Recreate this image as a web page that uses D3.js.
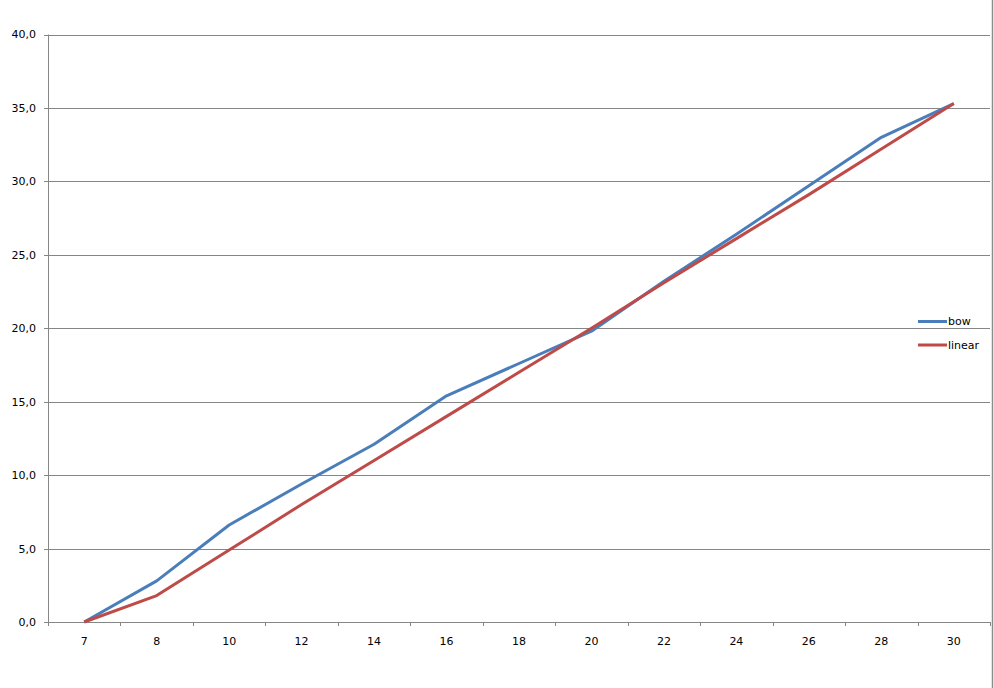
<!DOCTYPE html>
<html>
<head>
<meta charset="utf-8">
<script src="https://cdn.jsdelivr.net/npm/d3@7"></script>
<style>
  body { margin: 0; background: #fff; }
  svg { display: block; }
  text { font-family: "DejaVu Sans", sans-serif; font-size: 11px; fill: #000; }
</style>
</head>
<body>
<div id="chart"></div>
<script>
// data
const categories = ["7", "8", "10", "12", "14", "16", "18", "20", "22", "24", "26", "28", "30"];
const bow = [0, 2.8, 6.6, 9.4, 12.1, 15.4, 17.6, 19.8, 23.2, 26.4, 29.7, 33.0, 35.3];
const linear = [0, 1.8, 4.9, 8.0, 11.0, 14.0, 17.0, 20.0, 23.1, 26.1, 29.1, 32.2, 35.3];
const yTicks = [0, 5, 10, 15, 20, 25, 30, 35, 40];
const seriesNames = ["bow", "linear"];
const colors = ["#4a7ebb", "#be4b48"];

const width = 994;
const height = 688;
const plotLeft = 48, plotRight = 990, plotTop = 34.5, plotBottom = 622;
const gridColor = "#868686";

const svg = d3.select("#chart")
  .append("svg")
  .attr("width", width)
  .attr("height", height);

const x = d3.scaleBand()
  .domain(categories)
  .range([plotLeft, plotRight]);

const y = d3.scaleLinear()
  .domain([0, 40])
  .range([plotBottom, plotTop]);

const locale = d3.formatLocale({decimal: ",", thousands: ".", grouping: [3], currency: ["", ""]});
const fmt = locale.format(".1f");

// horizontal gridlines
svg.append("g")
  .selectAll("line")
  .data(yTicks)
  .enter()
  .append("line")
  .attr("x1", plotLeft - 4)
  .attr("x2", plotRight)
  .attr("y1", d => Math.round(y(d)) + 0.5)
  .attr("y2", d => Math.round(y(d)) + 0.5)
  .attr("stroke", gridColor)
  .attr("stroke-width", 1);

// y labels
svg.append("g")
  .selectAll("text")
  .data(yTicks)
  .enter()
  .append("text")
  .attr("x", 36)
  .attr("y", d => y(d))
  .attr("dy", "0.36em")
  .attr("text-anchor", "end")
  .text(d => fmt(d));

// left axis line
svg.append("line")
  .attr("x1", plotLeft + 0.5).attr("x2", plotLeft + 0.5)
  .attr("y1", plotTop).attr("y2", plotBottom + 4)
  .attr("stroke", gridColor);

// x tick marks at band edges
const edges = categories.map(c => x(c)).concat([plotRight]);
svg.append("g")
  .selectAll("line")
  .data(edges)
  .enter()
  .append("line")
  .attr("x1", d => Math.round(d) + 0.5)
  .attr("x2", d => Math.round(d) + 0.5)
  .attr("y1", plotBottom)
  .attr("y2", plotBottom + 4)
  .attr("stroke", gridColor);

// x labels
svg.append("g")
  .selectAll("text")
  .data(categories)
  .enter()
  .append("text")
  .attr("x", d => x(d) + x.bandwidth() / 2)
  .attr("y", 644.5)
  .attr("text-anchor", "middle")
  .text(d => d);

// right edge line
svg.append("line")
  .attr("x1", 992.5).attr("x2", 992.5)
  .attr("y1", 0).attr("y2", height)
  .attr("stroke", "#8c8c8c")
  .attr("stroke-width", 1.5);

// series lines
const line = d3.line()
  .x((d, i) => x(categories[i]) + x.bandwidth() / 2)
  .y(d => y(d));

[bow, linear].forEach((s, k) => {
  svg.append("path")
    .datum(s)
    .attr("d", line)
    .attr("fill", "none")
    .attr("stroke", colors[k])
    .attr("stroke-width", 3)
    .attr("stroke-linejoin", "round");
});

// legend
const legend = svg.append("g")
  .selectAll("g")
  .data(seriesNames)
  .enter()
  .append("g")
  .attr("transform", (d, i) => `translate(918, ${321.5 + i * 23.5})`);

legend.append("line")
  .attr("x1", 0).attr("x2", 29)
  .attr("y1", 0).attr("y2", 0)
  .attr("stroke", (d, i) => colors[i])
  .attr("stroke-width", 3);

legend.append("text")
  .attr("x", 30)
  .attr("y", 0)
  .attr("dy", "0.36em")
  .text(d => d);
</script>
</body>
</html>
